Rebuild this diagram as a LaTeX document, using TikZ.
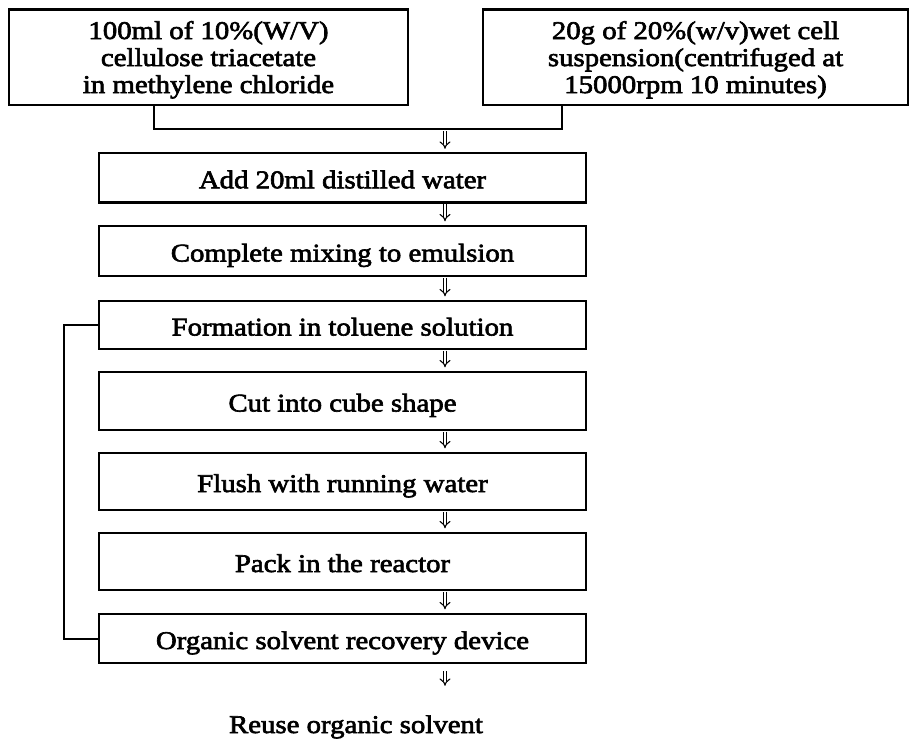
\documentclass[tikz,border=0pt]{standalone}
\usepackage{fontspec}
\setmainfont{Liberation Serif}[FakeStretch=1.13,FakeBold=2.5]
\usetikzlibrary{arrows.meta}
\begin{document}
\begin{tikzpicture}[x=1pt,y=1pt,
  txt/.style={font=\fontsize{25.5pt}{27pt}\selectfont},
  mainbox/.style={txt, draw, line width=2.4pt, inner sep=0pt, minimum width=487pt, text height=21pt, text depth=0pt},
  topbox/.style={txt, draw, line width=2.4pt, inner sep=0pt, align=center, minimum height=95.5pt},
  thinline/.style={line width=1.2pt},
  fbline/.style={line width=2pt},
  flow/.style={line width=1.1pt, double, double distance=2.6pt, -{Implies}},
]
\useasboundingbox (0,0) rectangle (910,-742);
% top input boxes
\node[topbox, minimum width=399pt] (tl) at (208.5,-57.25)
  {\rule{0pt}{23pt}100ml of 10\%(W/V)\\cellulose triacetate\\in methylene chloride};
\node[topbox, minimum width=425pt] (tr) at (695.5,-57.25)
  {\rule{0pt}{23pt}20g of 20\%(w/v)wet cell\\suspension(centrifuged at\\15000rpm 10 minutes)};
% process boxes
\node[mainbox, minimum height=49.5pt] (add)  at (342.5,-177.75) {Add 20ml distilled water};
\node[mainbox, minimum height=50pt]   (comp) at (342.5,-251)    {Complete mixing to emulsion};
\node[mainbox, minimum height=48pt]   (form) at (342.5,-325)    {Formation in toluene solution};
\node[mainbox, minimum height=58pt]   (cut)  at (342.5,-401)    {Cut into cube shape};
\node[mainbox, minimum height=57pt]   (flush) at (342.5,-481.5) {Flush with running water};
\node[mainbox, minimum height=57pt]   (pack) at (342.5,-561.5)  {Pack in the reactor};
\node[mainbox, minimum height=49pt]   (org)  at (342.5,-638.5)  {Organic solvent recovery device};
\node[txt, anchor=base, inner sep=0pt, outer sep=0pt] (reuse) at (356,-733) {Reuse organic solvent};
% helper coordinates
\coordinate (jl) at (154,-129);
\coordinate (jr) at (562,-129);
\coordinate (ax) at (445,0);
\coordinate (fb) at (64,0);
% joining connector
\draw[thinline] (tl.south -| jl) -- (jl) -- (jr) -- (tr.south -| jr);
% flow arrows
\draw[flow, shorten <=2pt, shorten >=3pt] (jl -| ax) -- (add.north -| ax);
\draw[flow, shorten <=0.5pt, shorten >=3.5pt] (add.south -| ax) -- (comp.north -| ax);
\draw[flow, shorten <=0.5pt, shorten >=3.5pt] (comp.south -| ax) -- (form.north -| ax);
\draw[flow, shorten <=0.5pt, shorten >=3.5pt] (form.south -| ax) -- (cut.north -| ax);
\draw[flow, shorten <=0.5pt, shorten >=3.5pt] (cut.south -| ax) -- (flush.north -| ax);
\draw[flow, shorten <=0.5pt, shorten >=3.5pt] (flush.south -| ax) -- (pack.north -| ax);
\draw[flow, shorten <=0.5pt, shorten >=3.5pt] (pack.south -| ax) -- (org.north -| ax);
\draw[flow, shorten <=7pt, shorten >=29.5pt] (org.south -| ax) -- (reuse.north -| ax);
% feedback line
\draw[fbline] (form.west) -- (form.west -| fb) -- (org.west -| fb) -- (org.west);
\end{tikzpicture}
\end{document}
